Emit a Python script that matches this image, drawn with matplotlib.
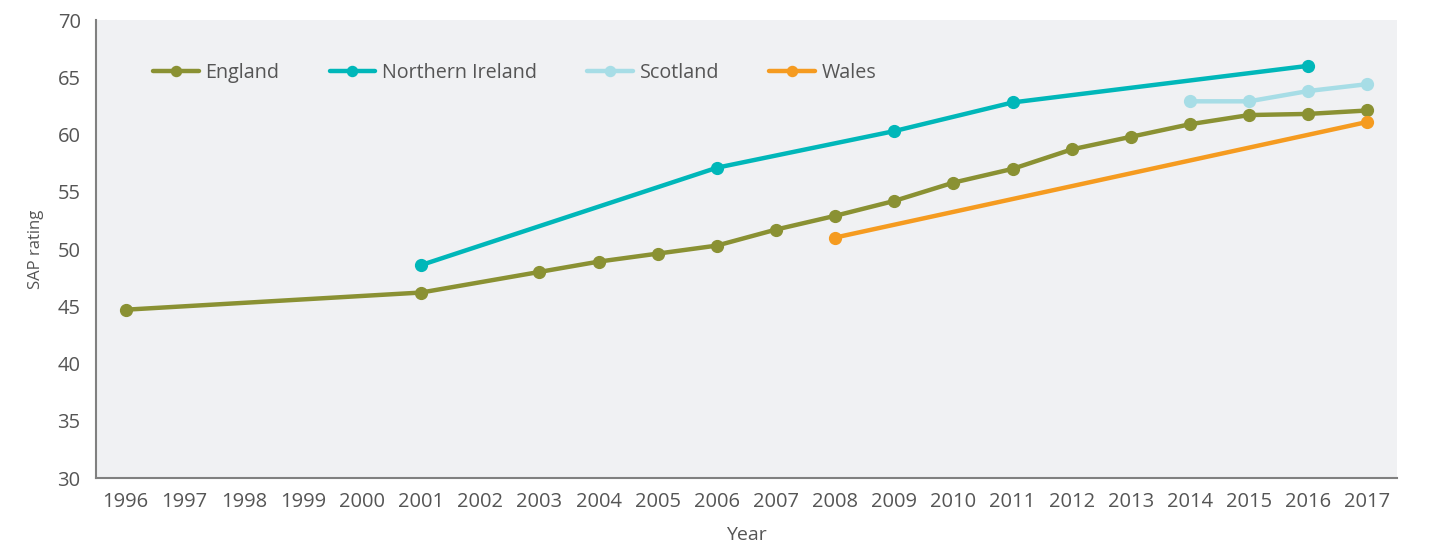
import matplotlib
matplotlib.use("Agg")
import matplotlib.pyplot as plt

# Dados (SAP rating médio por nação)
anos_england = [1996, 2001, 2003, 2004, 2005, 2006, 2007, 2008, 2009, 2010,
                2011, 2012, 2013, 2014, 2015, 2016, 2017]
sap_england = [44.7, 46.2, 48.0, 48.9, 49.6, 50.3, 51.7, 52.9, 54.2, 55.8,
               57.0, 58.7, 59.8, 60.9, 61.7, 61.8, 62.1]

anos_ni = [2001, 2006, 2009, 2011, 2016]
sap_ni = [48.6, 57.1, 60.3, 62.8, 66.0]

anos_scotland = [2014, 2015, 2016, 2017]
sap_scotland = [62.9, 62.9, 63.8, 64.4]

anos_wales = [2008, 2017]
sap_wales = [51.0, 61.1]

anos_ticks = list(range(1996, 2018))
y_ticks = [30, 35, 40, 45, 50, 55, 60, 65, 70]

plt.rcParams['font.family'] = ['Open Sans', 'DejaVu Sans']
cor_texto = '#555555'

fig = plt.figure(figsize=(14.3, 5.47), dpi=100)
ax = fig.add_axes([0.0671, 0.1261, 0.9098, 0.8373])
ax.set_facecolor('#f0f1f3')

series = [
    (anos_england, sap_england, 'England', '#8a9133'),
    (anos_ni, sap_ni, 'Northern Ireland', '#00b7b9'),
    (anos_scotland, sap_scotland, 'Scotland', '#a7dde6'),
    (anos_wales, sap_wales, 'Wales', '#f59b20'),
]
for x, y, nome, cor in series:
    ax.plot(x, y, color=cor, linewidth=3.2, marker='o', markersize=8.5,
            label=nome, solid_capstyle='round')

ax.set_xlim(1995.5, 2017.5)
ax.set_ylim(30, 70)
ax.set_xticks(anos_ticks)
ax.set_xticklabels([str(a) for a in anos_ticks])
ax.set_yticks(y_ticks)

for lado in ['top', 'right']:
    ax.spines[lado].set_visible(False)
for lado in ['left', 'bottom']:
    ax.spines[lado].set_color('#808080')
    ax.spines[lado].set_linewidth(1.5)

ax.tick_params(axis='both', length=0, labelsize=14.5, colors=cor_texto)
ax.tick_params(axis='x', pad=10)
ax.tick_params(axis='y', pad=11)

ax.set_xlabel('Year', fontsize=14, color=cor_texto, labelpad=10)
ax.set_ylabel('SAP rating', fontsize=12, color=cor_texto, labelpad=10)

leg = ax.legend(loc='center left', bbox_to_anchor=(0.044, 0.885), ncol=4,
                frameon=False, fontsize=14.2, handlelength=2.3,
                handletextpad=0.35, columnspacing=2.55, borderpad=0,
                borderaxespad=0, markerscale=0.85)
for t in leg.get_texts():
    t.set_color(cor_texto)

fig.savefig('out.png', dpi=100)
